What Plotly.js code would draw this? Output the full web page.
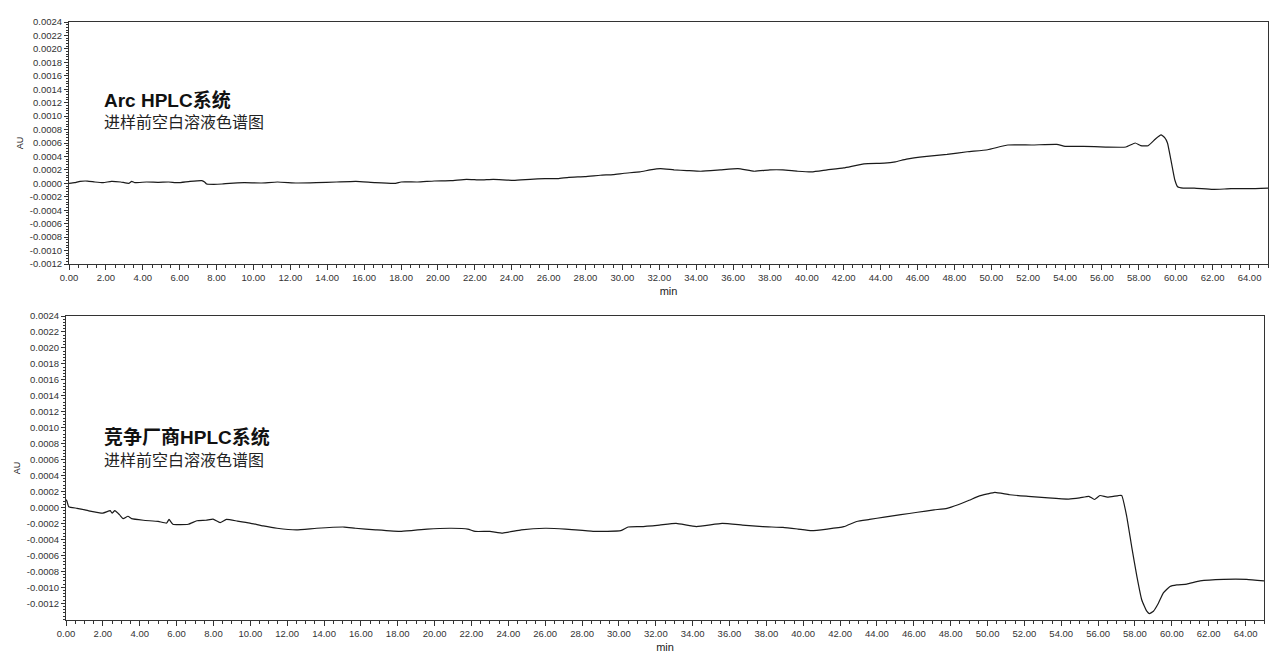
<!DOCTYPE html>
<html>
<head>
<meta charset="utf-8">
<script src="https://cdn.plot.ly/plotly-3.0.1.min.js"></script>
<style>
html,body{margin:0;padding:0;background:#fff;}
#chart{width:1280px;height:667px;}
</style>
</head>
<body>
<div id="chart"></div>
<script>
// ---- Data ----
var arcTime = [0,0.3,0.6,1.0,1.4,1.85,2.3,2.8,3.25,3.4,3.57,4.2,4.85,5.4,5.9,6.56,7.2,7.35,7.46,7.85,8.3,8.7,9.5,10.4,11.3,12.35,13.4,14.5,15.55,16.6,17.7,18.0,18.9,19.8,20.7,21.55,22.3,23.0,24.1,25.0,25.8,26.5,27.1,27.97,28.8,29.5,30.1,30.95,31.5,32.06,32.8,33.5,34.25,35.3,36.26,37.15,38.0,38.7,39.5,40.26,41.1,42.0,43.1,44.2,44.8,45.4,46.5,47.6,48.7,49.8,50.9,52.2,53.55,54.0,55.0,56.2,57.3,57.8,58.1,58.5,58.9,59.2,59.4,59.55,59.77,59.95,60.1,60.4,61.0,62.0,63.0,64.0,65.0];
var arcAU = [0.0,0.00001,0.00003,0.000034,0.00002,0.00001,0.00003,0.00002,0.0,0.00003,0.00001,0.00002,0.000015,0.00002,0.00001,0.00003,0.00004,0.00002,-0.00001,-0.000015,-0.00001,0.0,0.00001,0.000005,0.00002,0.000005,0.00001,0.00002,0.00003,0.00001,0.0,0.00002,0.00002,0.000035,0.00004,0.00006,0.00005,0.00006,0.000045,0.00006,0.00007,0.00007,0.00009,0.0001,0.00012,0.00013,0.00015,0.00017,0.0002,0.00022,0.0002,0.00019,0.00018,0.0002,0.00022,0.00018,0.0002,0.0002,0.00018,0.00017,0.0002,0.00023,0.00029,0.0003,0.00032,0.00036,0.0004,0.00043,0.00047,0.0005,0.00057,0.00057,0.00058,0.00055,0.00055,0.00054,0.00054,0.0006,0.00056,0.00056,0.00066,0.00072,0.00068,0.0006,0.0003,0.00005,-0.00005,-0.00007,-0.00007,-0.00009,-0.00008,-0.00008,-0.00007];

var compTime = [0,0.05,0.15,0.6,1.2,2.0,2.4,2.5,2.65,2.9,3.1,3.36,3.56,4.2,5.0,5.46,5.59,5.8,6.63,7.1,7.6,7.98,8.36,8.7,9.3,9.98,10.7,11.45,12.5,13.6,15.1,15.7,16.8,18.2,19.6,20.9,21.8,22.2,23.0,23.7,24.7,26.0,27.1,28.6,30.1,30.5,31.2,32.2,33.1,34.2,35.6,36.7,37.8,38.9,39.7,40.45,41.3,42.2,42.9,43.6,44.4,45.3,46.2,47.1,47.8,48.4,49.0,49.5,50.0,50.4,51.2,52.2,53.3,54.4,55.0,55.5,55.8,56.1,56.5,57.1,57.28,57.55,57.82,58.1,58.37,58.64,58.78,59.0,59.27,59.54,59.9,60.27,60.81,61.53,62.8,64.06,65.0];
var compAU = [0.0001,0.00008,0.00001,-0.00001,-0.00004,-0.00007,-0.00004,-0.00007,-0.00004,-0.00009,-0.00014,-0.00011,-0.00014,-0.00016,-0.000175,-0.000195,-0.00015,-0.00021,-0.00021,-0.000166,-0.00016,-0.000146,-0.00019,-0.00015,-0.00017,-0.000195,-0.00023,-0.00026,-0.00028,-0.00026,-0.000245,-0.00026,-0.00028,-0.0003,-0.00027,-0.00026,-0.00027,-0.0003,-0.0003,-0.00032,-0.00028,-0.00026,-0.00027,-0.0003,-0.00029,-0.000245,-0.00024,-0.00022,-0.0002,-0.00024,-0.0002,-0.00022,-0.00024,-0.00025,-0.00027,-0.00029,-0.00027,-0.00024,-0.000175,-0.00015,-0.00012,-0.00009,-0.00006,-0.00003,-0.00001,0.000035,0.00009,0.00014,0.00017,0.00019,0.00016,0.00014,0.00012,0.000105,0.00012,0.00014,0.0001,0.00015,0.00013,0.00015,0.00015,-0.00011,-0.00049,-0.00086,-0.00116,-0.0013,-0.00133,-0.0013,-0.0012,-0.00107,-0.00099,-0.00097,-0.00096,-0.00092,-0.0009,-0.0009,-0.00092];

var xTickVals = [0,2,4,6,8,10,12,14,16,18,20,22,24,26,28,30,32,34,36,38,40,42,44,46,48,50,52,54,56,58,60,62,64];
var xTickLabels = ["0.00","2.00","4.00","6.00","8.00","10.00","12.00","14.00","16.00","18.00","20.00","22.00","24.00","26.00","28.00","30.00","32.00","34.00","36.00","38.00","40.00","42.00","44.00","46.00","48.00","50.00","52.00","54.00","56.00","58.00","60.00","62.00","64.00"];
var yTickVals = [-0.0012,-0.0010,-0.0008,-0.0006,-0.0004,-0.0002,0,0.0002,0.0004,0.0006,0.0008,0.0010,0.0012,0.0014,0.0016,0.0018,0.0020,0.0022,0.0024];
var yTickLabels = ["-0.0012","-0.0010","-0.0008","-0.0006","-0.0004","-0.0002","0.0000","0.0002","0.0004","0.0006","0.0008","0.0010","0.0012","0.0014","0.0016","0.0018","0.0020","0.0022","0.0024"];

var titleMain = ["Arc HPLC系统", "竞争厂商HPLC系统"];
var titleSub = ["进样前空白溶液色谱图", "进样前空白溶液色谱图"];
var xTitle = "min";
var yTitle = "AU";

// ---- Styling ----
var FONT = '"Liberation Sans", Arial, "Noto Sans CJK SC", sans-serif';
var tickFont = {family: FONT, size: 9.5, color: '#333'};
function xAxis(anchor, domain) {
  return {
    domain: domain, anchor: anchor, range: [0, 65],
    tickmode: 'array', tickvals: xTickVals, ticktext: xTickLabels,
    ticks: 'outside', ticklen: 5, tickcolor: '#333', tickwidth: 1,
    minor: {dtick: 0.5, ticks: 'outside', ticklen: 3, tickcolor: '#333', showgrid: false},
    showline: true, linecolor: '#333', linewidth: 1, mirror: true,
    showgrid: false, zeroline: false, tickfont: tickFont,
    title: {text: xTitle, font: {family: FONT, size: 11, color: '#222'}, standoff: 4}
  };
}
function yAxis(anchor, domain, range) {
  return {
    domain: domain, anchor: anchor, range: range,
    tickmode: 'array', tickvals: yTickVals, ticktext: yTickLabels,
    ticks: 'outside', ticklen: 4, tickcolor: '#333', tickwidth: 1,
    minor: {dtick: 0.00004, tick0: 0, ticks: 'outside', ticklen: 2, tickcolor: '#333', showgrid: false},
    showline: true, linecolor: '#333', linewidth: 1, mirror: true,
    showgrid: false, zeroline: false, tickfont: tickFont,
    title: {text: yTitle, font: {family: FONT, size: 9, color: '#222'}, standoff: 4}
  };
}

var lineStyle = {color: '#1a1a1a', width: 1.2, shape: 'spline', smoothing: 0.4};
var traces = [
  {x: arcTime, y: arcAU, type: 'scatter', mode: 'lines', line: lineStyle, xaxis: 'x', yaxis: 'y', hoverinfo: 'x+y', showlegend: false},
  {x: compTime, y: compAU, type: 'scatter', mode: 'lines', line: lineStyle, xaxis: 'x2', yaxis: 'y2', hoverinfo: 'x+y', showlegend: false}
];

var W = 1280, H = 667;
var layout = {
  width: W, height: H,
  margin: {l: 0, r: 0, t: 0, b: 0},
  paper_bgcolor: '#fff', plot_bgcolor: '#fff',
  font: {family: FONT, color: '#222'},
  showlegend: false,
  xaxis: xAxis('y', [69 / W, 1268 / W]),
  yaxis: yAxis('x', [1 - 264 / H, 1 - 22 / H], [-0.0012, 0.0024]),
  xaxis2: xAxis('y2', [66 / W, 1264 / W]),
  yaxis2: yAxis('x2', [1 - 620 / H, 1 - 316 / H], [-0.00141, 0.0024]),
  annotations: [
    {xref: 'paper', yref: 'paper', x: 102 / W, y: 1 - 100 / H, xanchor: 'left', yanchor: 'middle', showarrow: false,
     text: '<b>' + titleMain[0] + '</b>', font: {family: FONT, size: 19, color: '#111'}},
    {xref: 'paper', yref: 'paper', x: 102 / W, y: 1 - 122 / H, xanchor: 'left', yanchor: 'middle', showarrow: false,
     text: titleSub[0], font: {family: FONT, size: 16, color: '#222'}},
    {xref: 'paper', yref: 'paper', x: 102 / W, y: 1 - 437 / H, xanchor: 'left', yanchor: 'middle', showarrow: false,
     text: '<b>' + titleMain[1] + '</b>', font: {family: FONT, size: 19, color: '#111'}},
    {xref: 'paper', yref: 'paper', x: 102 / W, y: 1 - 460 / H, xanchor: 'left', yanchor: 'middle', showarrow: false,
     text: titleSub[1], font: {family: FONT, size: 16, color: '#222'}}
  ]
};

Plotly.newPlot('chart', traces, layout, {staticPlot: true, displayModeBar: false});
</script>
</body>
</html>
